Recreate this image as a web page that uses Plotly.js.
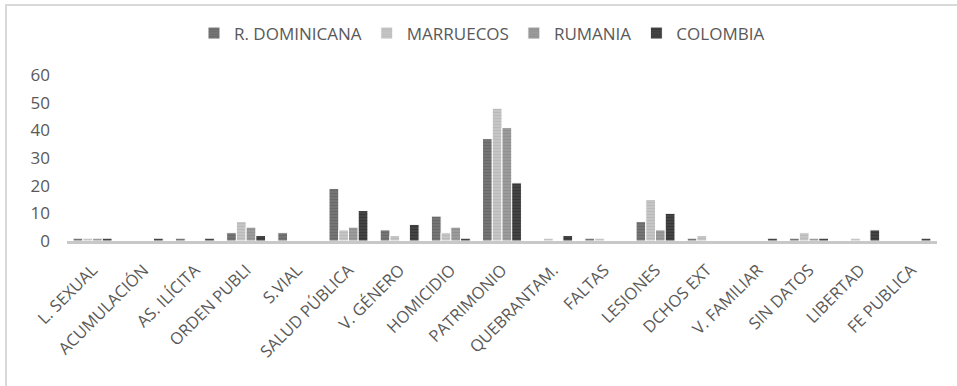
<!DOCTYPE html>
<html>
<head>
<meta charset="utf-8">
<script src="https://cdn.plot.ly/plotly-3.0.1.min.js"></script>
<style>
html,body{margin:0;padding:0;background:#fff;overflow:hidden;}
#frame{position:absolute;left:5px;top:4px;width:980px;height:400px;border-left:2px solid #d9d9d9;border-top:2px solid #d9d9d9;pointer-events:none;}
#chart{position:absolute;left:0;top:0;width:957px;height:386px;}
</style>
</head>
<body>
<div id="chart"></div>
<div id="frame"></div>
<script>
const categories = ["L. SEXUAL","ACUMULACIÓN","AS. ILÍCITA","ORDEN PUBLI","S.VIAL","SALUD PÚBLICA","V. GÉNERO","HOMICIDIO","PATRIMONIO","QUEBRANTAM.","FALTAS","LESIONES","DCHOS EXT","V. FAMILIAR","SIN DATOS","LIBERTAD","FE PUBLICA"];
const seriesNames = ["R. DOMINICANA","MARRUECOS","RUMANIA","COLOMBIA"];
const rDominicana = [1,0,1,3,3,19,4,9,37,0,1,7,1,0,1,0,0];
const marruecos   = [1,0,0,7,0,4,2,3,48,1,1,15,2,0,3,1,0];
const rumania     = [1,0,0,5,0,5,0,5,41,0,0,4,0,0,1,0,0];
const colombia    = [1,1,1,2,0,11,6,1,21,2,0,10,0,1,1,4,1];
const yTicks = [0,10,20,30,40,50,60];

const values = [rDominicana, marruecos, rumania, colombia];
const fills = [["#767676","#5c5c5c"],["#c6c6c6","#aeaeae"],["#9c9c9c","#838383"],["#454545","#2a2a2a"]];

const traces = values.map((v,i)=>({
  type:'bar',
  name: seriesNames[i],
  x: categories,
  y: v,
  marker:{
    color: fills[i][0],
    line:{color:'#ffffff', width:1},
    pattern:{shape:'-', fgcolor: fills[i][1], bgcolor: fills[i][0], size:3, solidity:0.4, fillmode:'overlay'}
  },
  hoverinfo:'x+y+name'
}));

const font = "'Open Sans', 'DejaVu Sans', sans-serif";
const layout = {
  width:957, height:386,
  margin:{l:67, r:20, t:75, b:145},
  paper_bgcolor:'#ffffff', plot_bgcolor:'#ffffff',
  barmode:'group', bargap:0.24, bargroupgap:0,
  font:{family:font, color:'#595959', size:17},
  showlegend:true,
  legend:{orientation:'h', x:0.477, xanchor:'center', y:1.25, yanchor:'middle',
          font:{family:font, size:17, color:'#595959'}, itemwidth:30, traceorder:'normal'},
  xaxis:{
    type:'category', tickangle:-45, showgrid:false, zeroline:false,
    showline:true, linecolor:'#c8c8c8', linewidth:3,
    ticks:'', ticklabelstandoff:10,
    tickfont:{family:font, size:16.5, color:'#595959'}
  },
  yaxis:{
    range:[0,60], tickvals:yTicks, ticktext:yTicks.map(String),
    showgrid:false, zeroline:false, showline:false, ticks:'',
    ticklabelstandoff:16,
    tickfont:{family:font, size:17, color:'#595959'}
  }
};
Plotly.newPlot('chart', traces, layout, {displayModeBar:false, staticPlot:true});
</script>
</body>
</html>
